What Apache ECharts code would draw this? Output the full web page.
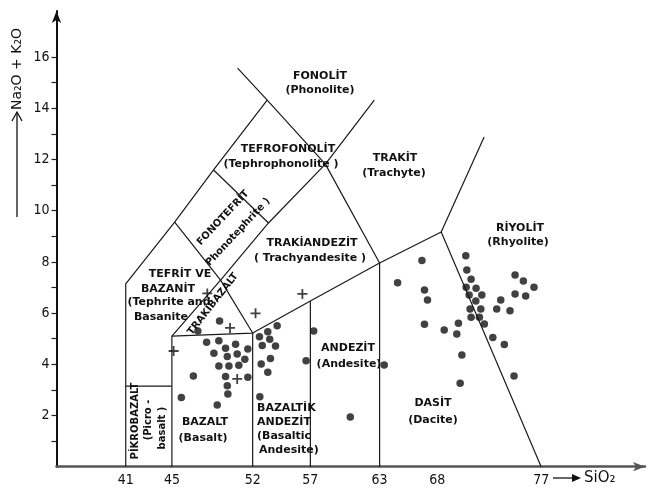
<!DOCTYPE html>
<html>
<head>
<meta charset="utf-8">
<script src="https://cdn.jsdelivr.net/npm/echarts@6/dist/echarts.min.js"></script>
<style>
html,body{margin:0;padding:0;background:#fff;}
#chart{width:655px;height:492px;}
</style>
</head>
<body>
<div id="chart"></div>
<script>
// ---- axis ticks ----
const xTickLabels = [41, 45, 52, 57, 63, 68, 77];
const yTickLabels = [2, 4, 6, 8, 10, 12, 14, 16];
const yTicks = [1, 2, 3, 4, 5, 6, 7, 8, 9, 10, 11, 12, 13, 14, 15, 16];

// ---- field boundary lines (SiO2, Na2O+K2O) ----
const leftOuter = [[41, 0], [41, 7.14], [45.24, 9.55], [48.61, 11.59], [53.26, 14.32]];
const phonoliteLower = [[50.69, 15.57], [53.26, 14.32], [58.30, 11.82], [63, 7.96]];
const trachyteLeft = [[62.54, 14.32], [58.30, 11.82], [53.37, 9.52], [49.22, 7.29], [45, 5.1]];
const phonotephriteTop = [[48.61, 11.59], [53.37, 9.52]];
const tephriteRight = [[45.24, 9.55], [49.22, 7.29], [52, 5.22]];
const picroTop = [[41, 3.15], [45, 3.15]];
const mainLower = [[45, 0], [45, 5.1], [52, 5.22], [57, 6.47], [63, 7.96], [68.34, 9.17], [77, 0]];
const rhyoliteLeft = [[68.34, 9.17], [72.06, 12.88]];
const line52 = [[52, 0], [52, 5.22]];
const line57 = [[57, 0], [57, 6.47]];
const line63 = [[63, 0], [63, 7.96]];

// ---- samples ----
const dotSamples = [
  [49.13, 5.69], [47.25, 5.30], [54.12, 5.51], [53.31, 5.27], [52.59, 5.08],
  [48.01, 4.86], [49.07, 4.92], [50.52, 4.78], [53.48, 4.98], [49.65, 4.63],
  [51.58, 4.60], [52.83, 4.73], [53.98, 4.71], [48.64, 4.43], [50.66, 4.40],
  [49.80, 4.30], [51.32, 4.20], [49.07, 3.93], [49.94, 3.93], [50.80, 3.96],
  [53.54, 4.23], [52.74, 4.01], [53.31, 3.69], [46.86, 3.54], [49.65, 3.52],
  [51.58, 3.49], [49.80, 3.16], [49.85, 2.84], [45.82, 2.70], [52.62, 2.73],
  [48.93, 2.41], [57.29, 5.30], [56.63, 4.14], [60.46, 1.94], [63.40, 3.97],
  [66.67, 8.05], [64.56, 7.19], [66.89, 6.90], [67.15, 6.51], [66.89, 5.56],
  [68.60, 5.34], [69.83, 5.60], [69.69, 5.18], [70.13, 4.36], [69.98, 3.26],
  [70.47, 8.24], [70.56, 7.68], [70.93, 7.32], [70.50, 7.01], [71.36, 6.97],
  [70.76, 6.71], [71.86, 6.71], [71.34, 6.47], [70.84, 6.16], [71.77, 6.16],
  [70.93, 5.84], [71.65, 5.84], [72.08, 5.57], [72.81, 5.05], [73.81, 4.77],
  [74.65, 3.54], [73.15, 6.16], [73.50, 6.51], [74.30, 6.09], [74.74, 7.49],
  [75.46, 7.25], [74.74, 6.75], [75.66, 6.67], [76.38, 7.01]
];
const plusSamples = [[48.07, 6.77], [52.25, 5.99], [56.31, 6.75], [50.04, 5.42], [45.15, 4.52], [50.66, 3.43]];

const boundaryLines = [leftOuter, phonoliteLower, trachyteLeft, phonotephriteTop, tephriteRight,
  picroTop, mainLower, rhyoliteLeft, line52, line57, line63];

const chart = echarts.init(document.getElementById('chart'), null, {renderer: 'canvas'});

const lblFont = 'bold 11px "DejaVu Sans", sans-serif';
function t(x, y, s, opt) {
  opt = opt || {};
  return {
    type: 'text', x: x, y: y, rotation: (opt.rot || 0) * Math.PI / 180, z: 50,
    style: {
      text: s, font: opt.font || lblFont, fill: '#111',
      align: opt.align || 'center', verticalAlign: 'middle'
    }
  };
}
const smallFont = 'bold 10px "DejaVu Sans", sans-serif';

const series = boundaryLines.map(function (pts) {
  return {
    type: 'line', data: pts, showSymbol: false, silent: true, z: 2,
    lineStyle: {color: '#1a1a1a', width: 1.2}, animation: false
  };
});
series.push({
  type: 'scatter', data: dotSamples, symbol: 'circle', symbolSize: 7.5,
  itemStyle: {color: '#111'}, z: 5, animation: false
});
series.push({
  type: 'scatter', data: plusSamples,
  symbol: 'path://M-0.9,-5H0.9V-0.9H5V0.9H0.9V5H-0.9V0.9H-5V-0.9H-0.9Z',
  symbolSize: 10, itemStyle: {color: '#111'}, z: 5, animation: false
});

const tickFont = '"Liberation Sans Narrow", "DejaVu Sans Condensed", "Liberation Sans", sans-serif';

chart.setOption({
  animation: false,
  backgroundColor: '#fff',
  grid: {left: 56.5, right: 10, top: 11, bottom: 25.3},
  xAxis: {
    type: 'value', min: 35, max: 86, interval: 1,
    splitLine: {show: false},
    axisLine: {show: true, lineStyle: {color: '#555', width: 2.5}, symbol: ['none', 'arrow'], symbolSize: [7, 12]},
    axisTick: {show: false},
    axisLabel: {
      customValues: xTickLabels, color: '#111', fontSize: 14, fontFamily: tickFont, margin: 7,
      formatter: function (v) { return xTickLabels.indexOf(v) >= 0 ? String(v) : ''; }
    }
  },
  yAxis: {
    type: 'value', min: 0, max: 17.8,
    splitLine: {show: false},
    axisLine: {show: true, lineStyle: {color: '#111', width: 2}, symbol: ['none', 'arrow'], symbolSize: [7, 12]},
    axisTick: {show: true, customValues: yTicks, length: 5, lineStyle: {color: '#222', width: 1.2}},
    axisLabel: {
      customValues: yTickLabels, color: '#111', fontSize: 14, fontFamily: tickFont, margin: 7,
      formatter: function (v) { return yTickLabels.indexOf(v) >= 0 ? String(v) : ''; }
    }
  },
  series: series,
  graphic: [
    // y axis title
    {type: 'line', shape: {x1: 17, y1: 217, x2: 17, y2: 113}, style: {stroke: '#111', lineWidth: 1.3}},
    {type: 'polyline', shape: {points: [[12, 121], [17, 112], [22, 121]]}, style: {stroke: '#111', lineWidth: 1.3, fill: null}},
    {type: 'text', x: 17, y: 69, rotation: Math.PI / 2,
      style: {text: 'Na₂O + K₂O', font: '14px "DejaVu Sans", sans-serif', fill: '#111', align: 'center', verticalAlign: 'middle'}},
    // x axis title
    {type: 'line', shape: {x1: 553, y1: 478, x2: 579, y2: 478}, style: {stroke: '#111', lineWidth: 1.3}},
    {type: 'polygon', shape: {points: [[572, 474], [581, 478], [572, 482]]}, style: {fill: '#111'}},
    t(584, 478, 'SiO₂', {align: 'left', font: '15px "DejaVu Sans", sans-serif'}),
    // field labels
    t(320, 76, 'FONOLİT'), t(320, 90, '(Phonolite)'),
    t(288, 149, 'TEFROFONOLİT'), t(281, 164, '(Tephrophonolite )'),
    t(395, 158, 'TRAKİT'), t(394, 173, '(Trachyte)'),
    t(520, 228, 'RİYOLİT'), t(518, 242, '(Rhyolite)'),
    t(312, 243, 'TRAKİANDEZİT'), t(310, 258, '( Trachyandesite )'),
    t(180, 274, 'TEFRİT VE'), t(168, 289, 'BAZANİT'),
    t(169, 302, '(Tephrite and'), t(161, 317, 'Basanite'),
    t(213, 304, 'TRAKİBAZALT', {rot: 52, font: smallFont}),
    t(223, 218, 'FONOTEFRİT', {rot: 47, font: smallFont}),
    t(238, 232, 'Phonotephrite )', {rot: 47, font: smallFont}),
    t(348, 348, 'ANDEZİT'), t(349, 364, '(Andesite)'),
    t(433, 403, 'DASİT'), t(433, 420, '(Dacite)'),
    t(205, 422, 'BAZALT'), t(203, 438, '(Basalt)'),
    t(257, 408, 'BAZALTİK', {align: 'left'}), t(257, 422, 'ANDEZİT', {align: 'left'}),
    t(257, 436, '(Basaltic', {align: 'left'}), t(259, 450, 'Andesite)', {align: 'left'}),
    t(135, 421, 'PİKROBAZALT', {rot: 90, font: smallFont}),
    t(148, 420, '(Picro -', {rot: 90, font: smallFont}),
    t(162, 428, 'basalt )', {rot: 90, font: smallFont})
  ]
});
</script>
</body>
</html>
